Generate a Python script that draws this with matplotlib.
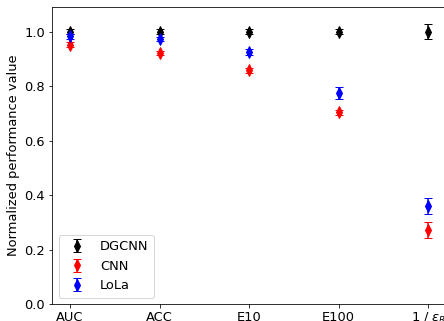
import numpy as np
import matplotlib
matplotlib.use('Agg')
import matplotlib.pyplot as plt

metricas = ['AUC', 'ACC', 'E10', 'E100', r'1 / $\varepsilon_R$']

dgcnn = [1.0, 1.0, 1.0, 1.0, 1.0]
dgcnn_err = [0.008, 0.008, 0.008, 0.008, 0.026]

cnn = [0.952, 0.921, 0.857, 0.703, 0.272]
cnn_err = [0.01, 0.008, 0.01, 0.01, 0.029]

lola = [0.982, 0.973, 0.925, 0.775, 0.360]
lola_err = [0.008, 0.008, 0.01, 0.023, 0.028]

plt.rcParams['font.size'] = 13

fig = plt.figure(figsize=(444 / 72, 321 / 72), dpi=72)
ax = fig.add_axes([52 / 444, 17 / 321, 396 / 444, 297 / 321])

x = np.arange(len(metricas))
ax.errorbar(x, dgcnn, yerr=dgcnn_err, fmt='d', color='black', capsize=4, markersize=8, label='DGCNN')
ax.errorbar(x, cnn, yerr=cnn_err, fmt='d', color='red', capsize=4, markersize=8, label='CNN')
ax.errorbar(x, lola, yerr=lola_err, fmt='d', color='blue', capsize=4, markersize=8, label='LoLa')

ax.set_xticks(x)
ax.set_xticklabels(metricas)
ax.set_xlim(-0.2, 4.22)
ax.set_ylim(0, 1.09)
ax.set_ylabel('Normalized performance value')
ax.legend(loc='lower left')

fig.savefig('out.png', dpi=72)
